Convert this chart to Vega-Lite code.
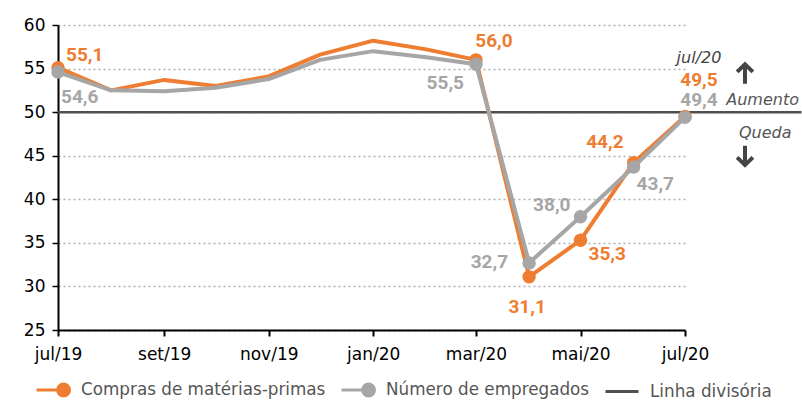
{
  "$schema": "https://vega.github.io/schema/vega-lite/v6.json",
  "width": 627,
  "height": 305,
  "autosize": {"type": "none"},
  "padding": {"left": 58, "top": 25, "right": 117, "bottom": 76},
  "config": {
    "font": "DejaVu Sans",
    "view": {"stroke": null},
    "locale": {
      "number": {"decimal": ",", "thousands": ".", "grouping": [3], "currency": ["R$", ""]},
      "time": {
        "dateTime": "%A, %e de %B de %Y. %X",
        "date": "%d/%m/%Y",
        "time": "%H:%M:%S",
        "periods": ["AM", "PM"],
        "days": ["Domingo", "Segunda", "Terça", "Quarta", "Quinta", "Sexta", "Sábado"],
        "shortDays": ["Dom", "Seg", "Ter", "Qua", "Qui", "Sex", "Sáb"],
        "months": ["Janeiro", "Fevereiro", "Março", "Abril", "Maio", "Junho", "Julho", "Agosto", "Setembro", "Outubro", "Novembro", "Dezembro"],
        "shortMonths": ["jan", "fev", "mar", "abr", "mai", "jun", "jul", "ago", "set", "out", "nov", "dez"]
      }
    }
  },
  "datasets": {
    "series": [
      {"date": "2019-07-01", "series": "Compras de matérias-primas", "value": 55.1},
      {"date": "2019-08-01", "series": "Compras de matérias-primas", "value": 52.5},
      {"date": "2019-09-01", "series": "Compras de matérias-primas", "value": 53.7},
      {"date": "2019-10-01", "series": "Compras de matérias-primas", "value": 53.0},
      {"date": "2019-11-01", "series": "Compras de matérias-primas", "value": 54.1},
      {"date": "2019-12-01", "series": "Compras de matérias-primas", "value": 56.6},
      {"date": "2020-01-01", "series": "Compras de matérias-primas", "value": 58.2},
      {"date": "2020-02-01", "series": "Compras de matérias-primas", "value": 57.2},
      {"date": "2020-03-01", "series": "Compras de matérias-primas", "value": 56.0},
      {"date": "2020-04-01", "series": "Compras de matérias-primas", "value": 31.1},
      {"date": "2020-05-01", "series": "Compras de matérias-primas", "value": 35.3},
      {"date": "2020-06-01", "series": "Compras de matérias-primas", "value": 44.2},
      {"date": "2020-07-01", "series": "Compras de matérias-primas", "value": 49.5},
      {"date": "2019-07-01", "series": "Número de empregados", "value": 54.6},
      {"date": "2019-08-01", "series": "Número de empregados", "value": 52.5},
      {"date": "2019-09-01", "series": "Número de empregados", "value": 52.4},
      {"date": "2019-10-01", "series": "Número de empregados", "value": 52.8},
      {"date": "2019-11-01", "series": "Número de empregados", "value": 53.8},
      {"date": "2019-12-01", "series": "Número de empregados", "value": 56.0},
      {"date": "2020-01-01", "series": "Número de empregados", "value": 57.0},
      {"date": "2020-02-01", "series": "Número de empregados", "value": 56.3},
      {"date": "2020-03-01", "series": "Número de empregados", "value": 55.5},
      {"date": "2020-04-01", "series": "Número de empregados", "value": 32.7},
      {"date": "2020-05-01", "series": "Número de empregados", "value": 38.0},
      {"date": "2020-06-01", "series": "Número de empregados", "value": 43.7},
      {"date": "2020-07-01", "series": "Número de empregados", "value": 49.4}
    ],
    "divider": [
      {"series": "Linha divisória", "value": 50, "date": "2019-07-01", "end": "2020-09-07"}
    ],
    "notes": [
      {"date": "2020-07-01", "value": 50}
    ]
  },
  "data": {"name": "series"},
  "encoding": {
    "x": {
      "field": "date",
      "type": "temporal",
      "scale": {"type": "utc", "domain": [{"year": 2019, "month": 7, "date": 1, "utc": true}, {"year": 2020, "month": 7, "date": 1, "utc": true}]},
      "axis": {
        "title": null,
        "labelExpr": "utcFormat(datum.value, '%b/%y')",
        "values": [
          {"year": 2019, "month": 7, "date": 1, "utc": true},
          {"year": 2019, "month": 9, "date": 1, "utc": true},
          {"year": 2019, "month": 11, "date": 1, "utc": true},
          {"year": 2020, "month": 1, "date": 1, "utc": true},
          {"year": 2020, "month": 3, "date": 1, "utc": true},
          {"year": 2020, "month": 5, "date": 1, "utc": true},
          {"year": 2020, "month": 7, "date": 1, "utc": true}
        ],
        "grid": false,
        "domainColor": "#000",
        "domainWidth": 2,
        "tickColor": "#000",
        "tickWidth": 2,
        "tickSize": 6,
        "labelFontSize": 17,
        "labelColor": "#000",
        "labelPadding": 10,
        "labelFlush": false
      }
    },
    "y": {
      "field": "value",
      "type": "quantitative",
      "scale": {"domain": [25, 60], "nice": false, "zero": false},
      "axis": {
        "title": null,
        "values": [25, 30, 35, 40, 45, 50, 55, 60],
        "domainColor": "#000",
        "domainWidth": 2,
        "tickColor": "#000",
        "tickWidth": 1.5,
        "tickSize": 6,
        "labelFontSize": 17,
        "labelColor": "#000",
        "labelPadding": 7,
        "gridColor": "#b0b0b0",
        "gridDash": [2, 3],
        "gridWidth": 1.5
      }
    },
    "color": {
      "field": "series",
      "type": "nominal",
      "scale": {
        "domain": ["Compras de matérias-primas", "Número de empregados", "Linha divisória"],
        "range": ["#EF7D31", "#A6A6A6", "#505050"]
      },
      "legend": {
        "title": null,
        "orient": "none",
        "legendX": -23,
        "legendY": 347,
        "direction": "horizontal",
        "symbolSize": 1089,
        "symbolStrokeWidth": 3,
        "labelFontSize": 16.8,
        "labelColor": "#555",
        "labelOffset": 10,
        "labelLimit": 400,
        "columnPadding": 9,
        "encode": {
          "symbols": {
            "update": {
              "shape": {"signal": "datum.label === 'Linha divisória' ? 'M-1,0H1' : 'M-1,0H0.3M0.28,0A0.36,0.36 0 1 1 1,0A0.36,0.36 0 1 1 0.28,0Z'"},
              "fill": {"signal": "scale('color', datum.value)"},
              "stroke": {"signal": "scale('color', datum.value)"},
              "strokeWidth": {"value": 3},
              "opacity": {"value": 1},
              "fillOpacity": {"value": 1}
            }
          }
        }
      }
    }
  },
  "layer": [
    {
      "data": {"name": "divider"},
      "mark": {"type": "rule", "strokeWidth": 2.5},
      "encoding": {
        "x2": {"field": "end"}
      }
    },
    {
      "transform": [{"filter": "datum.series === 'Compras de matérias-primas'"}],
      "mark": {"type": "line", "strokeWidth": 4, "strokeJoin": "round"}
    },
    {
      "transform": [{"filter": "datum.series === 'Compras de matérias-primas' && ((utcyear(datum.date) === 2019 && utcmonth(datum.date) === 6) || (utcyear(datum.date) === 2020 && utcmonth(datum.date) >= 2))"}],
      "mark": {"type": "circle", "size": 180, "opacity": 1}
    },
    {
      "transform": [{"filter": "datum.series === 'Número de empregados'"}],
      "mark": {"type": "line", "strokeWidth": 4, "strokeJoin": "round"}
    },
    {
      "transform": [{"filter": "datum.series === 'Número de empregados' && ((utcyear(datum.date) === 2019 && utcmonth(datum.date) === 6) || (utcyear(datum.date) === 2020 && utcmonth(datum.date) >= 2))"}],
      "mark": {"type": "circle", "size": 180, "opacity": 1}
    },
    {
      "transform": [{"filter": "datum.series === 'Compras de matérias-primas' && utcyear(datum.date) === 2019 && utcmonth(datum.date) === 6"}],
      "mark": {"type": "text", "font": "Roboto", "align": "left", "baseline": "middle", "dx": 8, "dy": -13, "fontSize": 19, "fontWeight": "bold"},
      "encoding": {"text": {"field": "value", "type": "quantitative", "format": ".1f"}}
    },
    {
      "transform": [{"filter": "datum.series === 'Compras de matérias-primas' && utcyear(datum.date) === 2020 && utcmonth(datum.date) === 2"}],
      "mark": {"type": "text", "font": "Roboto", "align": "center", "baseline": "middle", "dx": 18, "dy": -19, "fontSize": 19, "fontWeight": "bold"},
      "encoding": {"text": {"field": "value", "type": "quantitative", "format": ".1f"}}
    },
    {
      "transform": [{"filter": "datum.series === 'Compras de matérias-primas' && utcyear(datum.date) === 2020 && utcmonth(datum.date) === 3"}],
      "mark": {"type": "text", "font": "Roboto", "align": "center", "baseline": "middle", "dx": -2, "dy": 30, "fontSize": 19, "fontWeight": "bold"},
      "encoding": {"text": {"field": "value", "type": "quantitative", "format": ".1f"}}
    },
    {
      "transform": [{"filter": "datum.series === 'Compras de matérias-primas' && utcyear(datum.date) === 2020 && utcmonth(datum.date) === 4"}],
      "mark": {"type": "text", "font": "Roboto", "align": "left", "baseline": "middle", "dx": 8, "dy": 14, "fontSize": 19, "fontWeight": "bold"},
      "encoding": {"text": {"field": "value", "type": "quantitative", "format": ".1f"}}
    },
    {
      "transform": [{"filter": "datum.series === 'Compras de matérias-primas' && utcyear(datum.date) === 2020 && utcmonth(datum.date) === 5"}],
      "mark": {"type": "text", "font": "Roboto", "align": "right", "baseline": "middle", "dx": -10, "dy": -21, "fontSize": 19, "fontWeight": "bold"},
      "encoding": {"text": {"field": "value", "type": "quantitative", "format": ".1f"}}
    },
    {
      "transform": [{"filter": "datum.series === 'Compras de matérias-primas' && utcyear(datum.date) === 2020 && utcmonth(datum.date) === 6"}],
      "mark": {"type": "text", "font": "Roboto", "align": "center", "baseline": "middle", "dx": 14, "dy": -37, "fontSize": 19, "fontWeight": "bold"},
      "encoding": {"text": {"field": "value", "type": "quantitative", "format": ".1f"}}
    },
    {
      "transform": [{"filter": "datum.series === 'Número de empregados' && utcyear(datum.date) === 2019 && utcmonth(datum.date) === 6"}],
      "mark": {"type": "text", "font": "Roboto", "align": "left", "baseline": "middle", "dx": 3, "dy": 25, "fontSize": 19, "fontWeight": "bold"},
      "encoding": {"text": {"field": "value", "type": "quantitative", "format": ".1f"}}
    },
    {
      "transform": [{"filter": "datum.series === 'Número de empregados' && utcyear(datum.date) === 2020 && utcmonth(datum.date) === 2"}],
      "mark": {"type": "text", "font": "Roboto", "align": "right", "baseline": "middle", "dx": -12, "dy": 19, "fontSize": 19, "fontWeight": "bold"},
      "encoding": {"text": {"field": "value", "type": "quantitative", "format": ".1f"}}
    },
    {
      "transform": [{"filter": "datum.series === 'Número de empregados' && utcyear(datum.date) === 2020 && utcmonth(datum.date) === 3"}],
      "mark": {"type": "text", "font": "Roboto", "align": "right", "baseline": "middle", "dx": -21, "dy": -1, "fontSize": 19, "fontWeight": "bold"},
      "encoding": {"text": {"field": "value", "type": "quantitative", "format": ".1f"}}
    },
    {
      "transform": [{"filter": "datum.series === 'Número de empregados' && utcyear(datum.date) === 2020 && utcmonth(datum.date) === 4"}],
      "mark": {"type": "text", "font": "Roboto", "align": "right", "baseline": "middle", "dx": -10, "dy": -12, "fontSize": 19, "fontWeight": "bold"},
      "encoding": {"text": {"field": "value", "type": "quantitative", "format": ".1f"}}
    },
    {
      "transform": [{"filter": "datum.series === 'Número de empregados' && utcyear(datum.date) === 2020 && utcmonth(datum.date) === 5"}],
      "mark": {"type": "text", "font": "Roboto", "align": "left", "baseline": "middle", "dx": 3, "dy": 17, "fontSize": 19, "fontWeight": "bold"},
      "encoding": {"text": {"field": "value", "type": "quantitative", "format": ".1f"}}
    },
    {
      "transform": [{"filter": "datum.series === 'Número de empregados' && utcyear(datum.date) === 2020 && utcmonth(datum.date) === 6"}],
      "mark": {"type": "text", "font": "Roboto", "align": "center", "baseline": "middle", "dx": 14, "dy": -17, "fontSize": 19, "fontWeight": "bold"},
      "encoding": {"text": {"field": "value", "type": "quantitative", "format": ".1f"}}
    },
    {
      "data": {"name": "notes"},
      "mark": {"type": "text", "text": "jul/20", "align": "center", "baseline": "middle", "dx": 14, "dy": -54, "fontSize": 16, "fontStyle": "italic"},
      "encoding": {"color": {"value": "#444"}}
    },
    {
      "data": {"name": "notes"},
      "mark": {"type": "text", "text": "Aumento", "align": "right", "baseline": "middle", "dx": 114, "dy": -12, "fontSize": 16, "fontStyle": "italic"},
      "encoding": {"color": {"value": "#555"}}
    },
    {
      "data": {"name": "notes"},
      "mark": {"type": "text", "text": "Queda", "align": "left", "baseline": "middle", "dx": 54, "dy": 21, "fontSize": 16, "fontStyle": "italic"},
      "encoding": {"color": {"value": "#555"}}
    },
    {
      "data": {"name": "notes"},
      "mark": {"type": "point", "shape": "M0,1V-0.85M-0.75,-0.12L0,-0.85L0.75,-0.12", "filled": false, "size": 441, "strokeWidth": 4, "strokeJoin": "miter", "strokeCap": "butt", "opacity": 1, "xOffset": 60, "yOffset": -39},
      "encoding": {"color": {"value": "#444"}}
    },
    {
      "data": {"name": "notes"},
      "mark": {"type": "point", "shape": "M0,-1V0.85M-0.75,0.12L0,0.85L0.75,0.12", "filled": false, "size": 441, "strokeWidth": 4, "strokeJoin": "miter", "strokeCap": "butt", "opacity": 1, "xOffset": 60, "yOffset": 44},
      "encoding": {"color": {"value": "#444"}}
    }
  ]
}
